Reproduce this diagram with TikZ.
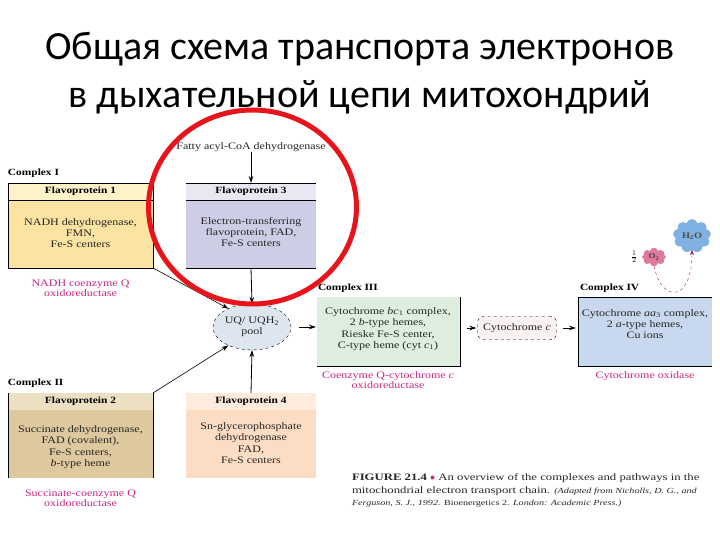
\documentclass[tikz,border=0pt]{standalone}
\usepackage{fontspec}
\setmainfont{Liberation Serif}
\newfontfamily\titlefont{Carlito}
\newfontfamily\figfont{Liberation Serif}[FakeStretch=1.2]
\newfontfamily\capfont{Liberation Serif}[FakeStretch=1.3]
\usetikzlibrary{shapes.geometric,shapes.symbols,arrows.meta}
\definecolor{magl}{RGB}{200,40,130}
\definecolor{cIbody}{HTML}{FCE3A2}
\definecolor{cIhead}{HTML}{FDF2C8}
\definecolor{fIIIbody}{HTML}{CDCEE6}
\definecolor{fIIIhead}{HTML}{E8E8F2}
\definecolor{cIIbody}{HTML}{DEC89E}
\definecolor{cIIhead}{HTML}{EDDFC2}
\definecolor{fIVbody}{HTML}{FCDCC3}
\definecolor{fIVhead}{HTML}{FDEBDD}
\definecolor{cIIIbody}{HTML}{DDEEDF}
\definecolor{poolfill}{HTML}{DDE5EF}
\definecolor{cIVbody}{HTML}{C8D8EE}
\definecolor{cytcfill}{HTML}{FBF1F1}
\definecolor{oxpink}{HTML}{E07A9A}
\definecolor{waterblue}{HTML}{7FB2E2}
\definecolor{circred}{HTML}{E8141B}
\newcommand{\sbs}[1]{\textsubscript{#1}}
\begin{document}
\begin{tikzpicture}[x=1pt,y=-1pt,
  every node/.style={inner sep=0pt, outer sep=0pt},
  figtxt/.style={font=\figfont\fontsize{10}{11.3}\selectfont, align=center, text=black!85},
  headtxt/.style={font=\figfont\bfseries\fontsize{9.5}{11}\selectfont},
  cplx/.style={font=\figfont\bfseries\fontsize{9.5}{11}\selectfont, anchor=west},
  magtxt/.style={font=\figfont\fontsize{10}{10.5}\selectfont, align=center, text=magl},
  boxbody/.style={anchor=north west, minimum height=85pt},
  headbox/.style={anchor=north west, minimum height=17pt},
  arr/.style={-{Stealth[length=7pt,width=4.5pt]}, thick},
  thinarr/.style={-{Stealth[length=7pt,width=4.5pt]}, semithick}
]
\useasboundingbox (0,0) rectangle (720,540);
% title
\node[font=\titlefont\fontsize{40}{48}\selectfont, anchor=base] (t1) at (360,60) {Общая схема транспорта электронов};
\node[font=\titlefont\fontsize{40}{48}\selectfont, anchor=base] (t2) at (360,108) {в дыхательной цепи митохондрий};

% Complex I
\node[cplx] (lI) at (8,173) {Complex I};
\node[boxbody, minimum width=145pt, fill=cIbody, draw] (fp1) at (8,183) {};
\node[headbox, minimum width=145pt, fill=cIhead, draw, headtxt] (fp1h) at (8,183) {Flavoprotein 1};
\node[figtxt] (fp1t) at (80.5,233) {NADH dehydrogenase,\\FMN,\\Fe-S centers};
\node[magtxt] (mI) at (80.5,288) {NADH coenzyme Q\\oxidoreductase};

% Flavoprotein 3
\node[figtxt] (fatty) at (251,147) {Fatty acyl-CoA dehydrogenase};
\node[boxbody, minimum width=130pt, fill=fIIIbody] (fp3) at (186,183) {};
\node[headbox, minimum width=130pt, fill=fIIIhead, headtxt] (fp3h) at (186,183) {Flavoprotein 3};
\draw (fp3.north west) -- (fp3.north east);
\draw (fp3h.south west) -- (fp3h.south east);
\draw (fp3.south west) -- (fp3.south east);
\node[figtxt] (fp3t) at (251,232) {Electron-transferring\\flavoprotein, FAD,\\Fe-S centers};

% Complex II
\node[cplx] (lII) at (8,383) {Complex II};
\node[boxbody, minimum width=145pt, fill=cIIbody] (fp2) at (8,393) {};
\node[headbox, minimum width=145pt, fill=cIIhead, headtxt] (fp2h) at (8,393) {Flavoprotein 2};
\draw (fp2.north west) -- (fp2.south west);
\draw (fp2.north east) -- (fp2.south east);
\node[figtxt] (fp2t) at (80.5,447) {Succinate dehydrogenase,\\FAD (covalent),\\Fe-S centers,\\\textit{b}-type heme};
\node[magtxt] (mII) at (80.5,498) {Succinate-coenzyme Q\\oxidoreductase};

% Flavoprotein 4
\node[boxbody, minimum width=130pt, fill=fIVbody] (fp4) at (186,393) {};
\node[headbox, minimum width=130pt, fill=fIVhead, headtxt] (fp4h) at (186,393) {Flavoprotein 4};
\node[figtxt] (fp4t) at (251,443) {Sn-glycerophosphate\\dehydrogenase\\FAD,\\Fe-S centers};

% UQ pool
\node[ellipse, draw, dashed, fill=poolfill, minimum width=78pt, minimum height=46pt, figtxt] (pool) at (252,327) {UQ/ UQH\sbs{2}\\pool};

% Complex III
\node[cplx] (lIII) at (318,288) {Complex III};
\node[anchor=north west, minimum width=143pt, minimum height=69pt, fill=cIIIbody] (c3) at (317,297) {};
\draw (c3.north east) -- (c3.south east) -- (c3.south west);
\node[figtxt] (c3t) at (388,329) {Cytochrome \textit{bc}\sbs{1} complex,\\2 \textit{b}-type hemes,\\Rieske Fe-S center,\\C-type heme (cyt \textit{c}\sbs{1})};
\node[magtxt] (mIII) at (388,380) {Coenzyme Q-cytochrome \textit{c}\\oxidoreductase};

% Cytochrome c
\node[rectangle, rounded corners=6pt, draw, dashed, fill=cytcfill, minimum width=79pt, minimum height=23pt, figtxt] (cytc) at (517,328) {Cytochrome \textit{c}};

% Complex IV
\node[cplx] (lIV) at (580,288) {Complex IV};
\node[anchor=north west, minimum width=134pt, minimum height=69pt, fill=cIVbody] (c4) at (578,297) {};
\draw (c4.north east) -- (c4.north west) -- (c4.south west) -- (c4.south east);
\node[figtxt] (c4t) at (645,324) {Cytochrome \textit{aa}\sbs{3} complex,\\2 \textit{a}-type hemes,\\Cu ions};
\node[magtxt] (mIV) at (645,376) {Cytochrome oxidase};

% O2 and H2O
\node[cloud, cloud puffs=8, fill=oxpink, minimum width=24pt, minimum height=17pt, font=\figfont\bfseries\fontsize{7.5}{8}\selectfont, text=black!75] (o2) at (654,257) {O\sbs{2}};
\node[font=\fontsize{10}{10}\selectfont] (half) at (634,257) {$\frac{1}{2}$};
\node[cloud, cloud puffs=9, fill=waterblue, minimum width=38pt, minimum height=27pt, font=\figfont\bfseries\fontsize{8.5}{9}\selectfont, text=black!70] (h2o) at (692,236) {H\sbs{2}O};
\draw[magl!80!black, dashed, -{Stealth[length=6pt,width=4pt]}] (o2.south) .. controls (662,304) and (692,302) .. (h2o.south);

% connectors
\draw[arr] (fatty) -- (fp3.north);
\draw[arr] (fp3.south) -- (pool.north);
\draw[arr] (fp4.north) -- (pool.south);
\draw[thinarr] (fp1.south east) -- (pool.142);
\draw[thinarr] (fp2.north east) -- (pool.218);
\draw[arr, shorten <=8pt, shorten >=1pt] (pool.east) -- (c3.west |- pool.east);
\draw[arr, shorten <=7pt, shorten >=1pt] (c3.east |- cytc.west) -- (cytc.west);
\draw[arr, shorten <=6pt, shorten >=2pt] (cytc.east) -- (c4.west |- cytc.east);

% caption
\node[anchor=north west, align=left, font=\capfont\fontsize{9.8}{12.3}\selectfont, text=black!85] (cap) at (352,474)
 {\textbf{FIGURE 21.4} \textcolor{magl}{$\bullet$} An overview of the complexes and pathways in the\\
  mitochondrial electron transport chain. {\itshape\fontsize{7.8}{12.3}\selectfont (Adapted from Nicholls, D. G., and}\\
  {\itshape\fontsize{7.8}{12.3}\selectfont Ferguson, S. J., 1992. \upshape Bioenergetics 2. \itshape London: Academic Press.)}};

% red circle
\draw[circred, line width=5pt] (252.5,207) ellipse [x radius=104, y radius=97];
\end{tikzpicture}
\end{document}
